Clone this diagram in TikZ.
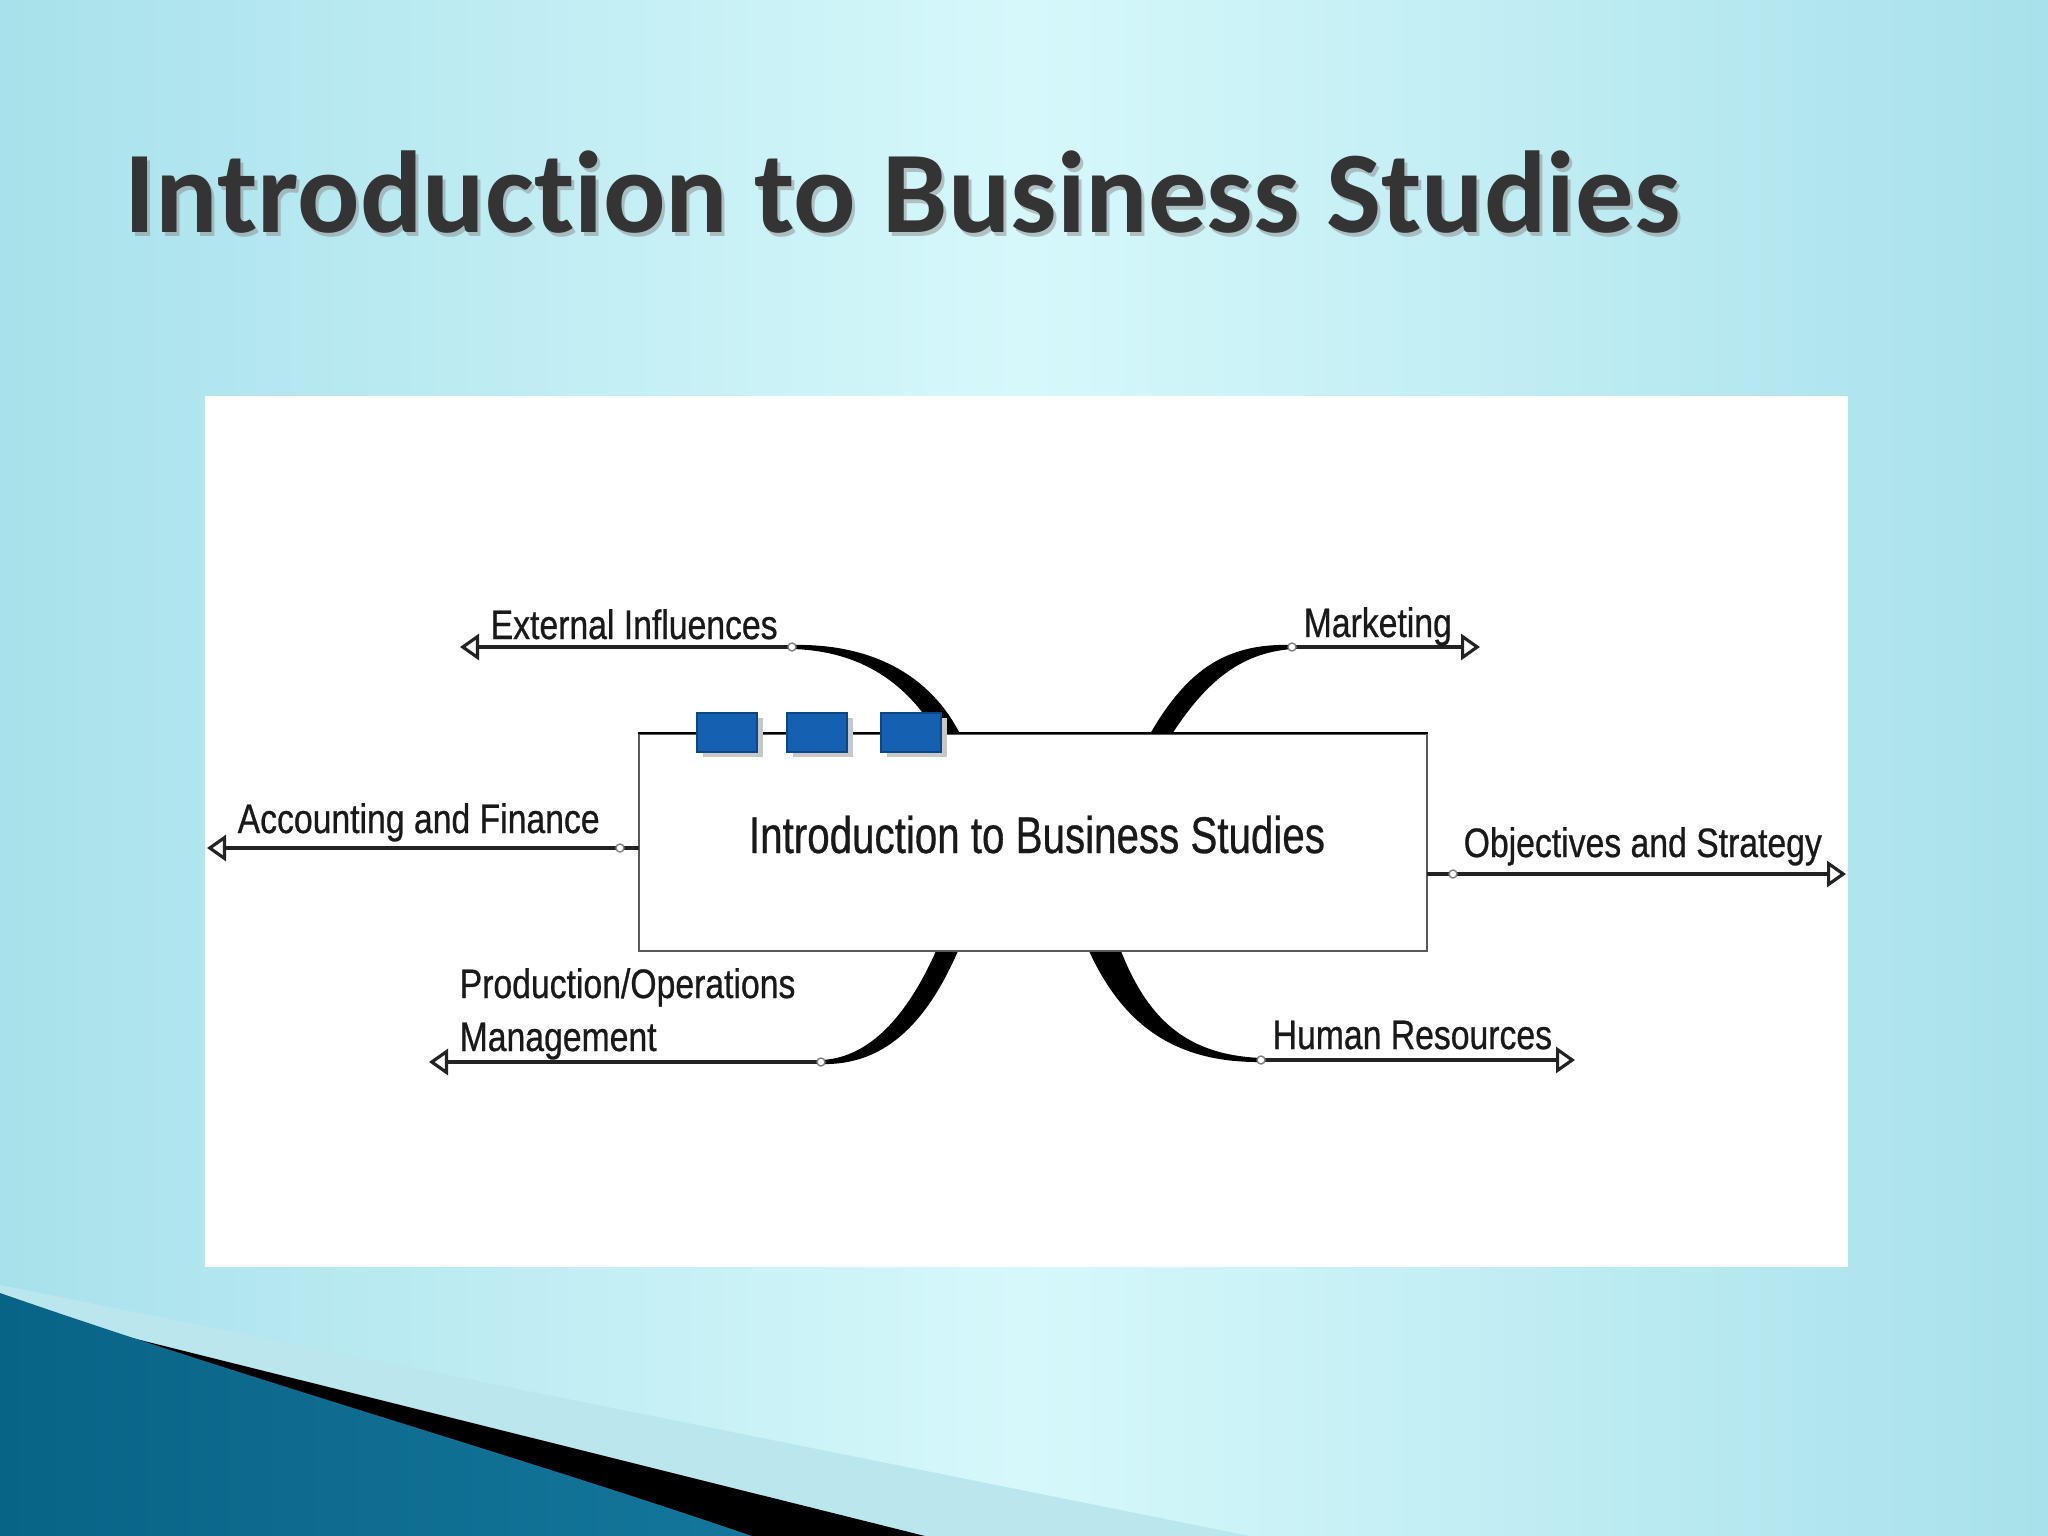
\documentclass[tikz,border=0pt]{standalone}
\usepackage{fontspec}
\usetikzlibrary{arrows.meta}
\newfontfamily\lblfont[FakeStretch=0.82, FakeBold=0.6]{Liberation Sans}
\newfontfamily\ctrfont[FakeStretch=0.78, FakeBold=0.6]{Liberation Sans}
\newfontfamily\ttlfont[Ligatures=NoCommon]{Carlito}
\definecolor{bgedge}{RGB}{168,225,235}
\definecolor{bglight}{RGB}{214,248,251}
\definecolor{bandc}{RGB}{186,230,238}
\definecolor{tealA}{RGB}{8,100,135}
\definecolor{tealB}{RGB}{75,172,210}
\definecolor{tealC}{RGB}{20,118,155}
\definecolor{titlec}{RGB}{52,52,52}
\definecolor{textc}{RGB}{25,25,25}
\definecolor{blueA}{RGB}{21,96,177}
\definecolor{blueB}{RGB}{12,70,135}
\definecolor{linec}{RGB}{35,35,35}
\tikzset{
  lbl/.style={anchor=base west, inner sep=0pt, text=textc, font=\lblfont\fontsize{11.7}{14}\selectfont},
  branch/.style={draw=linec, line width=1pt, -{Triangle[length=0.19cm, width=0.26cm, fill=white, line width=0.9pt]}},
  stub/.style={draw=linec, line width=1pt},
  curvefill/.style={fill=black},
  jdot/.style={circle, draw=gray, fill=white, line width=0.4pt, minimum size=0.08cm, inner sep=0pt},
  sqbox/.style={fill=blueA, draw=blueB, line width=0.4pt, minimum width=0.6cm, minimum height=0.39cm, inner sep=0pt},
  sqshadow/.style={fill=black!22, minimum width=0.6cm, minimum height=0.39cm, inner sep=0pt},
  mainbox/.style={draw=gray!70!black, fill=white, line width=0.6pt, minimum width=7.88cm, minimum height=2.17cm, inner sep=0pt}
}
\begin{document}
\begin{tikzpicture}[x=0.01cm, y=-0.01cm]
\useasboundingbox (0,0) rectangle (2048,1536);
% background
\shade[left color=bgedge, right color=bgedge, middle color=bglight] (0,0) rectangle (2048,1536);
% bottom-left decoration
\fill[bandc] (0,1285) -- (1250,1536) -- (0,1536) -- cycle;
\fill[black] (0,1305) -- (925,1536) -- (0,1536) -- cycle;
\shade[left color=tealA, middle color=tealB, right color=tealC] (0,1293) .. controls (250,1380) and (500,1450) .. (752,1536) -- (0,1536) -- cycle;
% title
\node[anchor=base west, inner sep=0pt, text=black!45, opacity=0.5] (titleshadow) at (127,236) {\resizebox{15.54cm}{!}{\ttlfont\bfseries Introduction to Business Studies}};
\node[anchor=base west, inner sep=0pt, text=titlec] (title) at (124,232) {\resizebox{15.54cm}{!}{\ttlfont\bfseries Introduction to Business Studies}};
% white panel
\fill[white] (205,396) rectangle (1848,1267);
% coordinates
\coordinate (extJ) at (792,647);
\coordinate (extT) at (460,647);
\coordinate (mktJ) at (1292,647);
\coordinate (mktT) at (1480,647);
\coordinate (accB) at (639,848);
\coordinate (accJ) at (620,848);
\coordinate (accT) at (207,848);
\coordinate (objB) at (1427,874);
\coordinate (objJ) at (1453,874);
\coordinate (objT) at (1846,874);
\coordinate (prodJ) at (821,1062);
\coordinate (prodT) at (429,1062);
\coordinate (hrJ) at (1261,1060);
\coordinate (hrT) at (1575,1060);
% tapered curves
\fill[curvefill] (792,645) .. controls (880,643) and (934,682) .. (960,734) -- (937,734) .. controls (912,692) and (870,651) .. (792,649) -- cycle;
\fill[curvefill] (1150,734) .. controls (1188,668) and (1228,643) .. (1292,645) -- (1292,649) .. controls (1240,653) and (1206,682) .. (1172,734) -- cycle;
\fill[curvefill] (821,1064) .. controls (890,1066) and (930,1015) .. (958,951) -- (936,951) .. controls (912,1005) and (875,1058) .. (821,1060) -- cycle;
\fill[curvefill] (1089,951) .. controls (1120,1018) and (1168,1063) .. (1261,1062) -- (1261,1058) .. controls (1192,1055) and (1150,1025) .. (1121,951) -- cycle;
% main box
\node[mainbox] (main) at (1033,842.5) {};
\draw[black, line width=0.7pt] (main.north west) -- (main.north east);
\node[anchor=base, inner sep=0pt, text=textc, font=\ctrfont\fontsize{14.7}{17}\selectfont] (maintxt) at (1037,853) {Introduction to Business Studies};
% squares
\node[sqshadow] (sq1s) at (733,737) {};
\node[sqshadow] (sq2s) at (823,737) {};
\node[sqshadow] (sq3s) at (917,737) {};
\node[sqbox] (sq1) at (727,732.5) {};
\node[sqbox] (sq2) at (817,732.5) {};
\node[sqbox] (sq3) at (911,732.5) {};
% branches
\draw[branch] (extJ) -- (extT);
\draw[branch] (mktJ) -- (mktT);
\draw[stub] (accB) -- (accJ);
\draw[branch] (accJ) -- (accT);
\draw[stub] (objB) -- (objJ);
\draw[branch] (objJ) -- (objT);
\draw[branch] (prodJ) -- (prodT);
\draw[branch] (hrJ) -- (hrT);
% junction dots
\node[jdot] (extD) at (extJ) {};
\node[jdot] (mktD) at (mktJ) {};
\node[jdot] (accD) at (accJ) {};
\node[jdot] (objD) at (objJ) {};
\node[jdot] (prodD) at (prodJ) {};
\node[jdot] (hrD) at (hrJ) {};
% labels
\node[lbl] (extL) at (490,639) {External Influences};
\node[lbl] (mktL) at (1303,637) {Marketing};
\node[lbl] (accL) at (237,833) {Accounting and Finance};
\node[lbl] (objL) at (1463,857) {Objectives and Strategy};
\node[lbl] (prodL1) at (459,998) {Production/Operations};
\node[lbl] (prodL2) at (459,1051) {Management};
\node[lbl] (hrL) at (1272,1049) {Human Resources};
\end{tikzpicture}
\end{document}
